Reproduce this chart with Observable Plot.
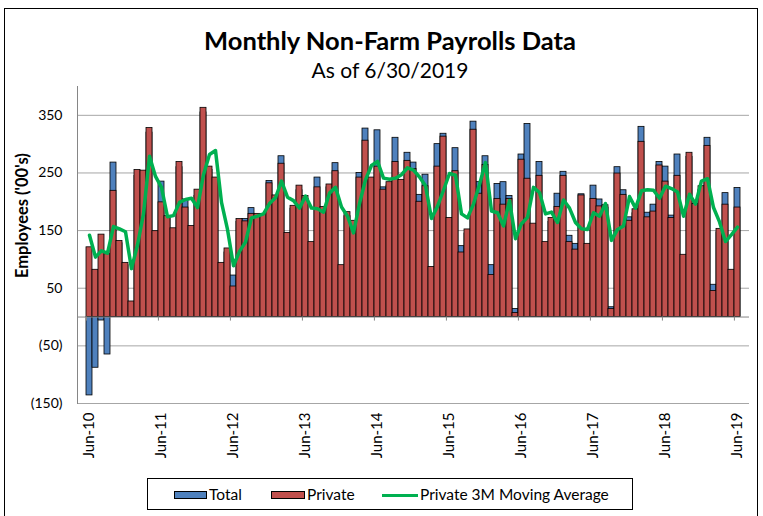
<!DOCTYPE html>
<html><head><meta charset="utf-8">
<script src="https://cdn.jsdelivr.net/npm/d3@7"></script>
<script src="https://cdn.jsdelivr.net/npm/@observablehq/plot@0.6"></script>
<style>
body{margin:0;background:#fff;font-family:Lato,"Liberation Sans",sans-serif;color:#000;}
#wrap{position:relative;width:763px;height:516px;overflow:hidden;background:#fff;}
#frame{position:absolute;left:4px;top:8px;width:752px;height:530px;border:1px solid #000;}
#title{position:absolute;left:0;width:780px;top:25px;text-align:center;font-weight:700;font-size:25.5px;line-height:30px;}
#subtitle{position:absolute;left:0;width:780px;top:57px;text-align:center;font-size:21px;line-height:25px;}
#chart{position:absolute;left:0;top:0;}
#legend{position:absolute;left:147px;top:478px;width:486px;height:32px;border:1px solid #000;box-sizing:border-box;font-size:15.5px;}
.sw{position:absolute;top:12px;height:8px;border:1px solid #000;box-sizing:border-box;}
.lt{position:absolute;top:6px;line-height:18px;}
</style></head>
<body>
<div id="wrap">
  <div id="frame"></div>
  <div id="chart"></div>
  <div id="title">Monthly Non-Farm Payrolls Data</div>
  <div id="subtitle">As of 6/30/2019</div>
  <div id="legend">
    <div class="sw" style="left:26px;width:33px;background:#4F81BD"></div>
    <div class="lt" style="left:61px">Total</div>
    <div class="sw" style="left:123px;width:34px;background:#C0504D"></div>
    <div class="lt" style="left:159px">Private</div>
    <div style="position:absolute;left:234px;top:15px;width:36px;height:3px;background:#00B050"></div>
    <div class="lt" style="left:272px">Private 3M Moving Average</div>
  </div>
</div>
<script>
// Monthly change, Jun-2010 .. Jun-2019 (hundreds as labelled)
const total = [
  -136, -88, -6, -65, 268, 128, 90, 20, 245, 240, 320, 140,
  235, 170, 150, 260, 204, 150, 210, 355, 255, 235, 90, 112,
  72, 165, 170, 189, 175, 172, 236, 205, 279, 140, 188, 220,
  205, 125, 242, 185, 225, 267, 85, 175, 160, 250, 327, 235,
  324, 225, 228, 311, 232, 285, 268, 212, 247, 80, 300, 318,
  165, 293, 123, 145, 339, 234, 279, 90, 231, 234, 210, 14,
  282, 335, 155, 269, 125, 165, 214, 252, 141, 127, 213, 120,
  228, 204, 190, 17, 260, 220, 173, 180, 330, 181, 195, 269,
  261, 176, 282, 100, 278, 190, 220, 311, 56, 147, 215, 75,
  224
];
const privateVals = [
  121, 82, 143, 109, 219, 132, 94, 27, 255, 254, 328, 149,
  199, 175, 154, 269, 190, 158, 221, 363, 261, 242, 94, 119,
  53, 170, 166, 179, 179, 179, 232, 211, 266, 146, 193, 228,
  210, 130, 225, 191, 230, 253, 90, 182, 167, 242, 306, 242,
  261, 221, 234, 269, 238, 271, 257, 200, 227, 87, 261, 313,
  172, 253, 112, 152, 325, 214, 264, 73, 205, 195, 205, 7,
  273, 240, 162, 245, 130, 172, 191, 245, 130, 117, 211, 127,
  205, 192, 194, 14, 249, 212, 167, 187, 304, 173, 183, 263,
  235, 172, 245, 108, 285, 196, 227, 297, 45, 153, 195, 82,
  190
];
const privateMA = [
  142, 104, 115, 111, 157, 153, 148, 84, 125, 179, 279, 244,
  225, 174, 176, 199, 204, 206, 190, 247, 282, 289, 199, 152,
  89, 114, 130, 172, 175, 179, 197, 207, 236, 208, 202, 189,
  210, 189, 188, 182, 215, 225, 191, 175, 146, 197, 238, 263,
  270, 241, 239, 241, 247, 259, 255, 243, 228, 171, 192, 220,
  249, 246, 179, 172, 196, 230, 268, 184, 181, 158, 202, 136,
  162, 173, 225, 216, 179, 182, 164, 203, 189, 164, 153, 152,
  181, 175, 197, 133, 152, 158, 209, 189, 219, 221, 220, 206,
  227, 223, 217, 175, 213, 196, 236, 240, 190, 165, 131, 143,
  156
];
const yTicks = [-150, -50, 50, 150, 250, 350];
const fmt = d3.utcFormat("%b-%y");
const months = d3.utcMonth.range(new Date(Date.UTC(2010,5,1)), new Date(Date.UTC(2019,6,1))).map(fmt);
const xTicks = months.filter(m => m.startsWith("Jun"));

const rows = months.map((m, i) => ({month: m, total: total[i], priv: privateVals[i], ma: privateMA[i]}));

const W = 763, H = 470, ML = 77, MR = 14, MT = 86, MB = 67;
const bw = (W - ML - MR) / months.length;

const chart = Plot.plot({
  width: W, height: H,
  marginLeft: ML, marginRight: MR, marginTop: MT, marginBottom: MB,
  style: {fontFamily: "Lato, 'Liberation Sans', sans-serif", background: "transparent", color: "#000"},
  x: {type: "band", domain: months, padding: 0, label: null},
  y: {domain: [-150, 400], label: null},
  marks: [
    Plot.ruleY(yTicks, {stroke: "#a6a6a6", strokeWidth: 1}),
    Plot.barY(rows, {x: "month", y: "total", fill: "#4F81BD", stroke: "#000", strokeWidth: 0.8}),
    Plot.barY(rows, {x: "month", y: "priv", fill: "#C0504D", stroke: "#000", strokeWidth: 0.8}),
    Plot.ruleY([0], {stroke: "#868686", strokeWidth: 1}),
    Plot.ruleX(xTicks, {x: d => d, y1: 0, y2: -7, dx: -bw / 2, stroke: "#868686"}),
    Plot.frame({anchor: "left", stroke: "#868686"}),
    Plot.lineY(rows, {x: "month", y: "ma", stroke: "#00B050", strokeWidth: 3.5, strokeLinejoin: "round", strokeLinecap: "round"}),
    Plot.axisY({ticks: yTicks, tickSize: 0, tickPadding: 15, fontSize: 14, tickFormat: d => d < 0 ? `(${-d})` : `${d}`}),
    Plot.axisX({ticks: xTicks, tickSize: 0, tickRotate: -90, tickPadding: 9, fontSize: 15}),
    Plot.text(["Employees ('00's)"], {frameAnchor: "left", y: [176], dx: -55, rotate: -90, textAnchor: "middle", fontWeight: "bold", fontSize: 16.5, fill: "#000"})
  ]
});
document.getElementById("chart").appendChild(chart);
</script>
</body></html>
